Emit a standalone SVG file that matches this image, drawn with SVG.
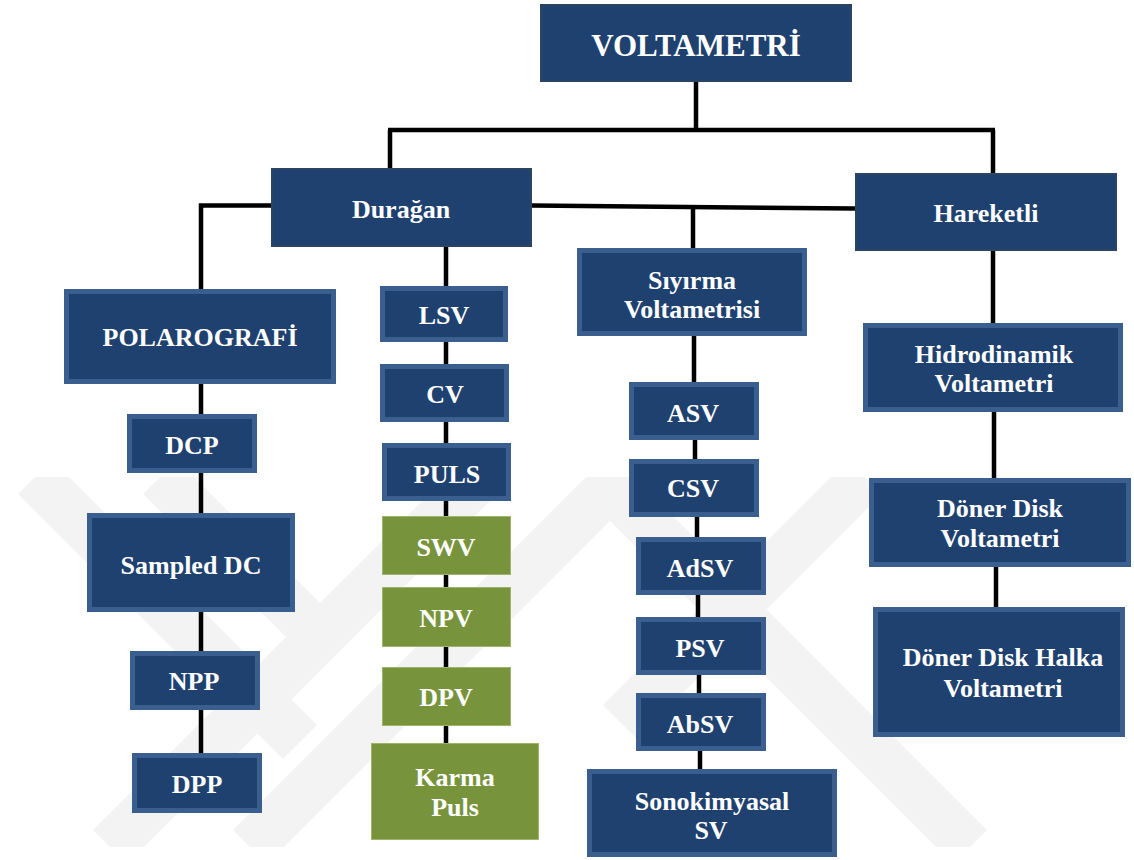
<svg xmlns="http://www.w3.org/2000/svg" width="1134" height="860" viewBox="0 0 1134 860">
<style>
.top{fill:#1F4170;stroke:#2C4463;stroke-width:2}
.blue{fill:#1F4170;stroke:#3A5E8D;stroke-width:5}
.green{fill:#77933C;stroke:#9DB46A;stroke-width:1}
.t{font-family:'Liberation Serif',serif;font-weight:700;font-size:26px;fill:#fff;text-anchor:middle}
.c{stroke:#000;stroke-width:4.5;fill:none}
.wm{stroke:#f3f3f3;stroke-width:48;fill:none}
</style>
<defs>
<clipPath id="wmclip"><rect x="0" y="477" width="1134" height="370"/></clipPath>
</defs>
<rect width="1134" height="860" fill="#fff"/>
<g id="watermark" clip-path="url(#wmclip)">
<path class="wm" d="M35,477 L300,742"/>
<path class="wm" d="M160,477 L310,627"/>
<path class="wm" d="M110,847 L480,477"/>
<path class="wm" d="M250,847 L620,477"/>
<path class="wm" d="M600,477 L970,847"/>
<path class="wm" d="M865,477 L620,722"/>
</g>
<g id="connectors">
<path class="c" d="M696,82 V130"/>
<path class="c" d="M388,130 H995"/>
<path class="c" d="M390,130 V168"/>
<path class="c" d="M993,130 V173"/>
<path class="c" d="M532,205.5 L855,208.5"/>
<path class="c" d="M271,205.5 H201 V753"/>
<path class="c" d="M446,247 V743"/>
<path class="c" d="M693,207 V248"/>
<path class="c" d="M694,336 V382"/>
<path class="c" d="M695,440 V459"/>
<path class="c" d="M697,517 V537"/>
<path class="c" d="M698,595 V617"/>
<path class="c" d="M699,675 V693"/>
<path class="c" d="M700,751 V769"/>
<path class="c" d="M993,251 V323"/>
<path class="c" d="M994,412 V478"/>
<path class="c" d="M996,567 V607"/>
</g>
<g id="voltametri"><rect class="top" x="541" y="5" width="310" height="76"/><text class="t" x="696" y="56" style="font-size:31px">VOLTAMETRİ</text></g>
<g id="duragan"><rect class="top" x="272" y="169" width="259" height="77"/><text class="t" x="401" y="218">Durağan</text></g>
<g id="hareketli"><rect class="top" x="856" y="174" width="260" height="76"/><text class="t" x="986" y="222">Hareketli</text></g>
<g id="polarografi"><rect class="blue" x="66.5" y="291.5" width="267" height="90"/><text class="t" x="200" y="346">POLAROGRAFİ</text></g>
<g id="lsv"><rect class="blue" x="382.5" y="288.5" width="123" height="51"/><text class="t" x="444" y="324">LSV</text></g>
<g id="cv"><rect class="blue" x="382.5" y="366.5" width="124" height="53"/><text class="t" x="445" y="403">CV</text></g>
<g id="puls"><rect class="blue" x="384.5" y="445.5" width="124" height="53"/><text class="t" x="447" y="483">PULS</text></g>
<g id="swv"><rect class="green" x="382.5" y="516.5" width="128" height="58"/><text class="t" x="446" y="556">SWV</text></g>
<g id="npv"><rect class="green" x="382.5" y="587.5" width="128" height="59"/><text class="t" x="446" y="627">NPV</text></g>
<g id="dpv"><rect class="green" x="382.5" y="667.5" width="128" height="58"/><text class="t" x="446" y="706">DPV</text></g>
<g id="karma"><rect class="green" x="371.5" y="743.5" width="167" height="96"/><text class="t" x="455" y="786">Karma</text><text class="t" x="455" y="816">Puls</text></g>
<g id="dcp"><rect class="blue" x="129.5" y="416.5" width="125" height="54"/><text class="t" x="192" y="454">DCP</text></g>
<g id="sampled"><rect class="blue" x="89.5" y="515.5" width="203" height="94"/><text class="t" x="191" y="574">Sampled DC</text></g>
<g id="npp"><rect class="blue" x="132.5" y="653.5" width="125" height="54"/><text class="t" x="194" y="690">NPP</text></g>
<g id="dpp"><rect class="blue" x="134.5" y="755.5" width="125" height="55"/><text class="t" x="197" y="793">DPP</text></g>
<g id="siyirma"><rect class="blue" x="579.5" y="250.5" width="225" height="83"/><text class="t" x="692" y="289">Sıyırma</text><text class="t" x="692" y="318">Voltametrisi</text></g>
<g id="asv"><rect class="blue" x="631.5" y="384.5" width="125" height="53"/><text class="t" x="693" y="422">ASV</text></g>
<g id="csv"><rect class="blue" x="631.5" y="461.5" width="125" height="53"/><text class="t" x="693" y="497">CSV</text></g>
<g id="adsv"><rect class="blue" x="638.5" y="539.5" width="125" height="53"/><text class="t" x="700" y="577">AdSV</text></g>
<g id="psv"><rect class="blue" x="638.5" y="619.5" width="125" height="53"/><text class="t" x="700" y="657">PSV</text></g>
<g id="absv"><rect class="blue" x="638.5" y="695.5" width="125" height="53"/><text class="t" x="700" y="733">AbSV</text></g>
<g id="sonokimyasal"><rect class="blue" x="589.5" y="771.5" width="245" height="83"/><text class="t" x="712" y="810">Sonokimyasal</text><text class="t" x="711" y="839">SV</text></g>
<g id="hidrodinamik"><rect class="blue" x="865.5" y="325.5" width="255" height="84"/><text class="t" x="994" y="363">Hidrodinamik</text><text class="t" x="994" y="392">Voltametri</text></g>
<g id="donerdisk"><rect class="blue" x="871.5" y="480.5" width="257" height="84"/><text class="t" x="1000" y="517">Döner Disk</text><text class="t" x="1000" y="547">Voltametri</text></g>
<g id="donerdiskhalka"><rect class="blue" x="875.5" y="609.5" width="247" height="125"/><text class="t" x="1003" y="666">Döner Disk Halka</text><text class="t" x="1003" y="697">Voltametri</text></g>
</svg>
